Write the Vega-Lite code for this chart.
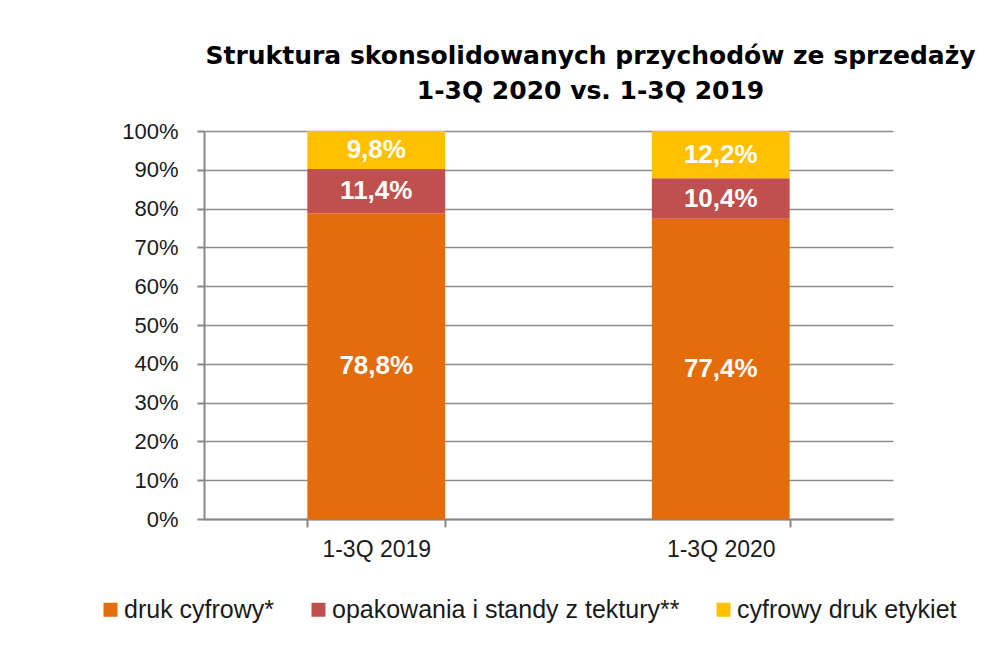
{
  "$schema": "https://vega.github.io/schema/vega-lite/v6.json",
  "width": 689,
  "height": 388,
  "autosize": "none",
  "padding": {"left": 204, "top": 131, "right": 106, "bottom": 143},
  "background": "white",
  "config": {
    "locale": {"number": {"decimal": ",", "thousands": " ", "grouping": [3], "currency": ["", " zł"]}},
    "view": {"stroke": null},
    "font": "Liberation Sans",
    "axisY": {
      "title": null,
      "format": ".0%",
      "values": [0, 0.1, 0.2, 0.3, 0.4, 0.5, 0.6, 0.7, 0.8, 0.9, 1],
      "labelOverlap": false,
      "grid": true,
      "gridColor": "#8c8c8c",
      "gridWidth": 1.5,
      "domainColor": "#878787",
      "domainWidth": 2,
      "tickColor": "#878787",
      "tickWidth": 2,
      "tickSize": 7,
      "labelFontSize": 22,
      "labelColor": "#1a1a1a",
      "labelPadding": 19
    }
  },
  "title": {
    "text": ["Struktura skonsolidowanych przychodów ze sprzedaży", "1-3Q 2020 vs. 1-3Q 2019"],
    "font": "DejaVu Sans",
    "fontWeight": "bold",
    "fontSize": 25,
    "anchor": "middle",
    "dx": 42,
    "offset": 16,
    "lineHeight": 35,
    "color": "#000000"
  },
  "data": {
    "values": [
      {"period": "1-3Q 2019", "category": "druk cyfrowy*", "rank": 1, "value": 0.788},
      {"period": "1-3Q 2019", "category": "opakowania i standy z tektury**", "rank": 2, "value": 0.114},
      {"period": "1-3Q 2019", "category": "cyfrowy druk etykiet", "rank": 3, "value": 0.098},
      {"period": "1-3Q 2020", "category": "druk cyfrowy*", "rank": 1, "value": 0.774},
      {"period": "1-3Q 2020", "category": "opakowania i standy z tektury**", "rank": 2, "value": 0.104},
      {"period": "1-3Q 2020", "category": "cyfrowy druk etykiet", "rank": 3, "value": 0.122}
    ]
  },
  "transform": [
    {"stack": "value", "groupby": ["period"], "sort": [{"field": "rank", "order": "ascending"}], "as": ["y0", "y1"]},
    {"calculate": "(datum.y0 + datum.y1) / 2", "as": "ymid"}
  ],
  "encoding": {
    "x": {
      "field": "period",
      "type": "nominal",
      "sort": ["1-3Q 2019", "1-3Q 2020"],
      "scale": {"paddingInner": 0.6, "paddingOuter": 0.3},
      "axis": {
        "title": null,
        "labelAngle": 0,
        "tickBand": "extent",
        "grid": false,
        "ticks": true,
        "tickSize": 8,
        "tickWidth": 2,
        "tickColor": "#878787",
        "domainColor": "#878787",
        "domainWidth": 2,
        "labelFontSize": 23,
        "labelColor": "#1a1a1a",
        "labelPadding": 11
      }
    }
  },
  "layer": [
    {
      "mark": {"type": "bar"},
      "encoding": {
        "y": {
          "field": "y0",
          "type": "quantitative",
          "scale": {"domain": [0, 1], "nice": false},
          "axis": {"values": [0, 0.1, 0.2, 0.3, 0.4, 0.5, 0.6, 0.7, 0.8, 0.9, 1], "labelOverlap": false}
        },
        "y2": {"field": "y1"},
        "color": {
          "field": "category",
          "type": "nominal",
          "scale": {
            "domain": ["druk cyfrowy*", "opakowania i standy z tektury**", "cyfrowy druk etykiet"],
            "range": ["#E46C0A", "#C0504D", "#FFC000"]
          },
          "legend": {
            "title": null,
            "orient": "none",
            "direction": "horizontal",
            "legendX": -106,
            "legendY": 466,
            "symbolType": "square",
            "symbolSize": 196,
            "symbolStrokeWidth": 0,
            "labelFontSize": 25,
            "labelLimit": 0,
            "labelColor": "#1a1a1a",
            "labelOffset": 1,
            "columnPadding": 31
          }
        },
        "order": {"field": "rank", "type": "quantitative"}
      }
    },
    {
      "mark": {"type": "text", "color": "white", "fontWeight": "bold", "fontSize": 26, "align": "center", "baseline": "middle"},
      "encoding": {
        "y": {
          "field": "ymid",
          "type": "quantitative",
          "axis": {"values": [0, 0.1, 0.2, 0.3, 0.4, 0.5, 0.6, 0.7, 0.8, 0.9, 1], "labelOverlap": false}
        },
        "text": {"field": "value", "type": "quantitative", "format": ".1%"}
      }
    }
  ]
}
